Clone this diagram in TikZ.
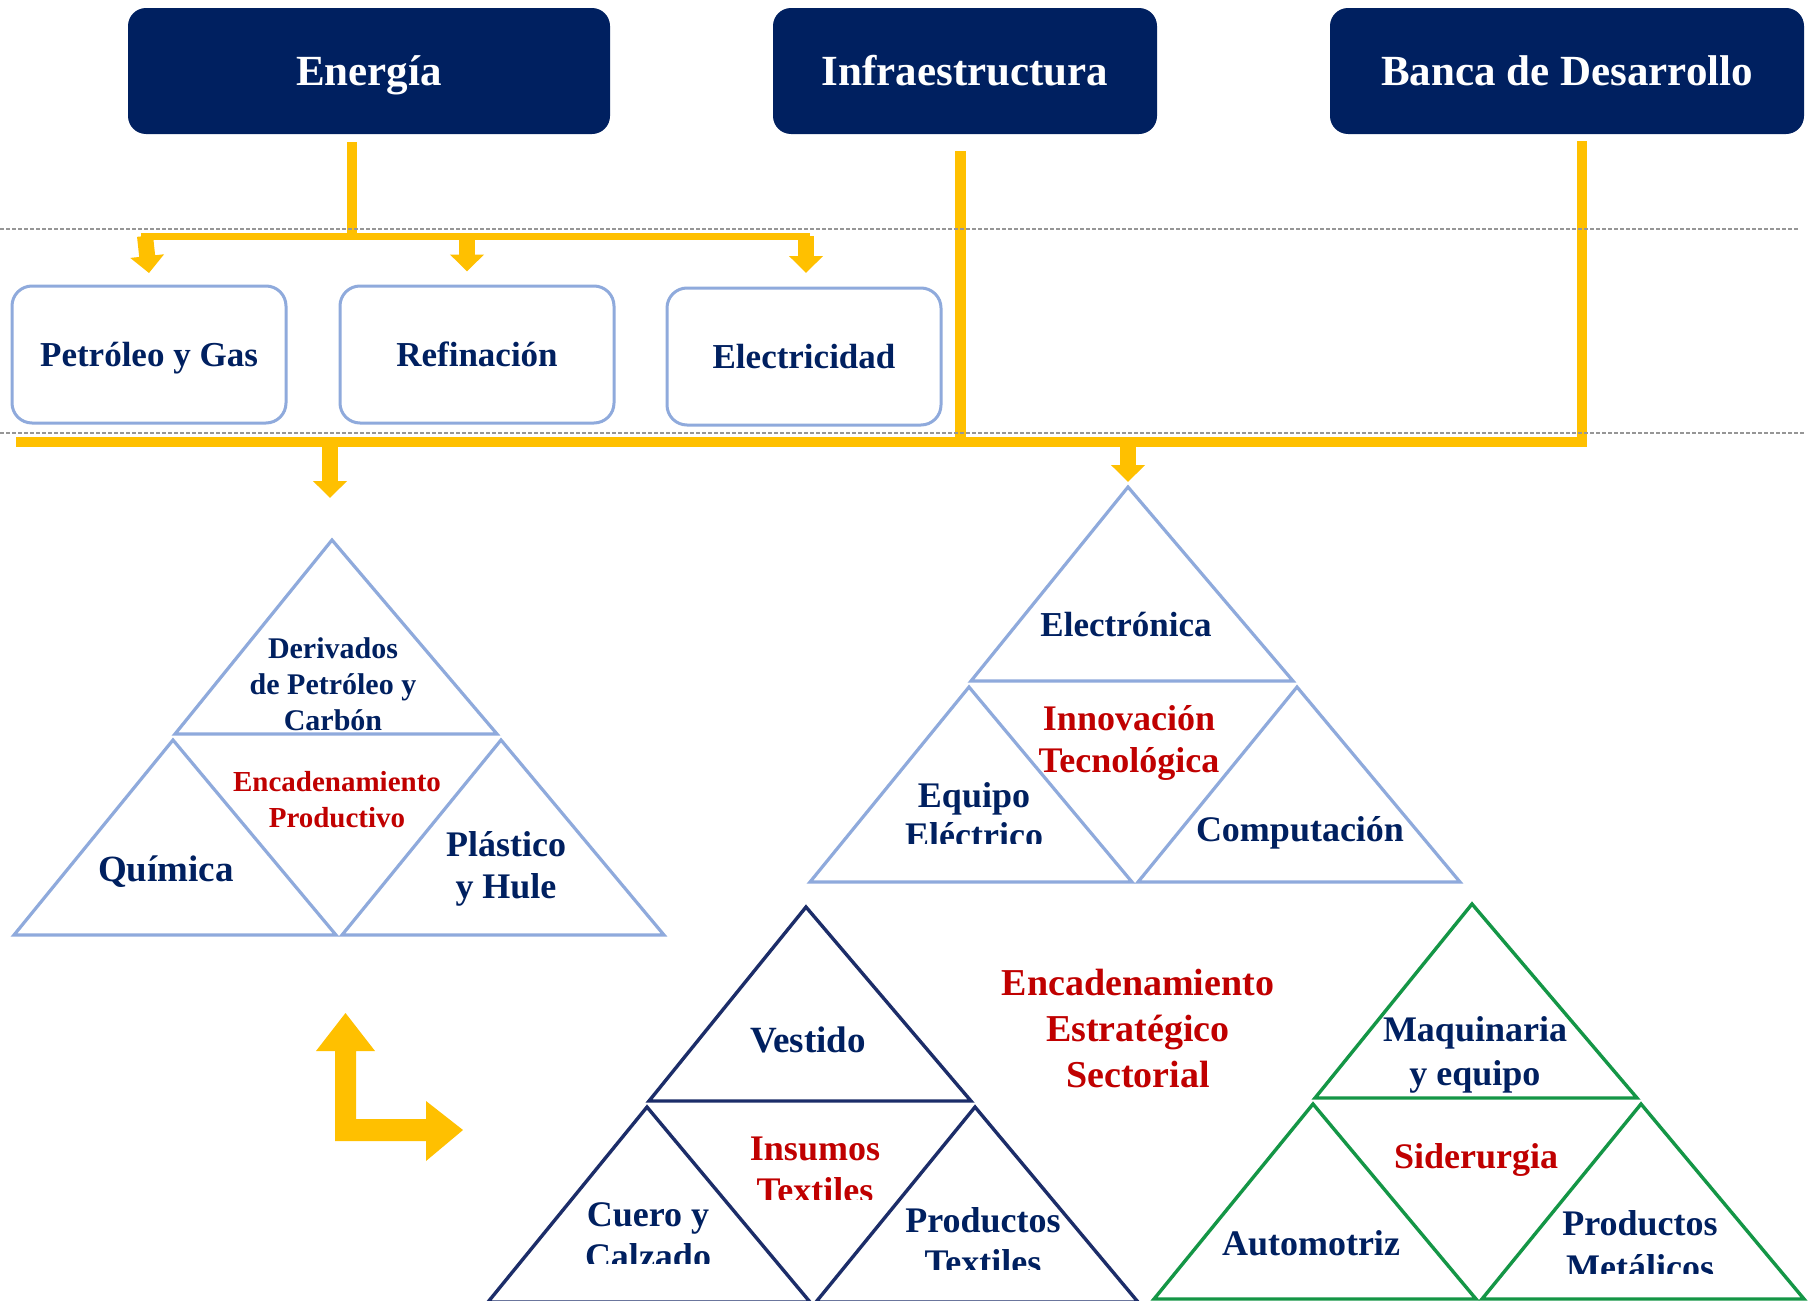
\documentclass[tikz,border=0pt]{standalone}
\usepackage{fontspec}
\setmainfont{Liberation Serif}
\usetikzlibrary{arrows.meta,calc}
\definecolor{navy}{RGB}{0,32,96}
\definecolor{tnavy}{RGB}{28,45,105}
\definecolor{lblue}{RGB}{143,170,220}
\definecolor{ygold}{RGB}{255,192,0}
\definecolor{dred}{RGB}{192,0,0}
\definecolor{tgreen}{RGB}{20,150,70}
\definecolor{dotgray}{RGB}{150,150,150}
\newcommand\pyr[3]{%
  \draw[#3] (#1-4,#2) -- (#1-161,#2+194) -- (#1+161,#2+194) -- cycle;
  \draw[#3] (#1-163,#2+200) -- (#1-322,#2+395) -- (#1,#2+395) -- cycle;
  \draw[#3] (#1+165,#2+200) -- (#1+6,#2+395) -- (#1+328,#2+395) -- cycle;
}
\tikzset{
  titlebox/.style={fill=navy, rounded corners=9pt, text=white,
    font=\fontsize{21.5}{25}\selectfont\bfseries, minimum height=63pt, inner sep=0pt,
    text height=14.5pt, text depth=0pt},
  subbox/.style={draw=lblue, line width=1.5pt, rounded corners=10pt, fill=white, text=navy,
    font=\fontsize{17.5}{21}\selectfont\bfseries, minimum width=137pt, minimum height=68.5pt, inner sep=0pt,
    text height=12pt, text depth=0pt},
  yline/.style={draw=ygold, line cap=butt},
  yarrow/.style={draw=ygold, line width=8pt, -{Triangle[width=16.5pt,length=8.5pt]}},
  dotline/.style={draw=dotgray, line width=1pt, dash pattern=on 2pt off 1pt},
  lbl/.style={text=navy, align=center, inner sep=0pt, font=\fontsize{18}{21}\selectfont\bfseries},
  rlbl/.style={lbl, text=dred},
  triblue/.style={draw=lblue, line width=1.6pt},
  trinavy/.style={draw=tnavy, line width=1.7pt},
  trigreen/.style={draw=tgreen, line width=1.7pt},
}
\begin{document}
\begin{tikzpicture}[x=0.5pt, y=-0.5pt]
\useasboundingbox (0,0) rectangle (1810,1301);
\fill[white] (0,0) rectangle (1810,1301);

% title boxes
\node[titlebox, minimum width=241pt] (en) at (369,71) {Energía};
\node[titlebox, minimum width=192pt] (inf) at (965,71) {Infraestructura};
\node[titlebox, minimum width=237pt] (ban) at (1567,71) {Banca de Desarrollo};

% sub boxes
\node[subbox] (pg) at (149,354.5) {Petróleo y Gas};
\node[subbox] (ref) at (477,354.5) {Refinación};
\node[subbox] (ele) at (804,356.5) {Electricidad};

% bus coordinates
\coordinate (eTop) at ($(en.south)+(-17,8)$);
\coordinate (eBus) at (352,236);
\coordinate (bL) at (145,236);
\coordinate (bR) at (806,236);
\coordinate (bM) at (ref.north |- bL);
\coordinate (iTop) at ($(inf.south)+(-5,17)$);
\coordinate (iBot) at (960,442);
\coordinate (kTop) at (1582,141);
\coordinate (kBot) at (1582,447);
\coordinate (lBus) at (16,442);
\coordinate (rBus) at (1587,442);
\coordinate (aL) at (330,442);
\coordinate (aR) at (1128,442);

% yellow connectors
\draw[yline, line width=5pt] (eTop) -- (eBus);
\draw[yline, line width=3.5pt] ($(bL)+(-4,0)$) -- ($(bR)+(4,0)$);
\draw[yarrow] (bL) -- (pg.north |- 0,273);
\draw[yarrow] ($(bM)+(-10,0)$) -- ($(ref.north)+(-10,-13)$);
\draw[yarrow] (bR) -- (806,273);
\draw[yline, line width=5.5pt] (iTop) -- (iBot);
\draw[yline, line width=5pt] (kTop) -- (kBot);
\draw[yline, line width=5pt] (lBus) -- (rBus);
\draw[yarrow] ($(aL)+(0,-5)$) -- (330,498);
\draw[yarrow] ($(aR)+(0,-5)$) -- (1128,482);

% dotted separators
\draw[dotline] (0,229) -- (1798,229);
\draw[dotline] (0,433) -- (1805,433);

% pyramids
\pyr{336}{540}{triblue}
\pyr{1132}{487}{triblue}
\pyr{810}{907}{trinavy}
\pyr{1476}{904}{trigreen}

% L-shaped arrow
\fill[ygold] (345.5,1013) -- (375,1051) -- (356,1051) -- (356,1119) -- (426,1119)
  -- (426,1101) -- (463,1130) -- (426,1161) -- (426,1141) -- (335,1141)
  -- (335,1051) -- (316,1051) -- cycle;

% left pyramid labels
\node[lbl, font=\fontsize{15}{18}\selectfont\bfseries] (der) at (333,684) {Derivados\\de Petróleo y\\Carbón};
\node[rlbl, font=\fontsize{14.5}{18}\selectfont\bfseries] (encp) at (337,800) {Encadenamiento\\Productivo};
\node[lbl, font=\fontsize{18.5}{21}\selectfont\bfseries] (qui) at (166,872) {Química};
\node[lbl] (pla) at (506,869) {Plástico\\y Hule};

% right pyramid labels
\node[lbl, font=\fontsize{17.5}{21}\selectfont\bfseries] (elec) at (1126,625) {Electrónica};
\node[rlbl] (inn) at (1129,743) {Innovación\\Tecnológica};
\begin{scope}
  \clip (860,700) rectangle (1090,843);
  \node[lbl, font=\fontsize{18}{20}\selectfont\bfseries] (eqe) at (974,815) {Equipo\\Eléctrico};
\end{scope}
\node[lbl] (comp) at (1300,833) {Computación};

% navy pyramid labels
\node[lbl, font=\fontsize{18.5}{21}\selectfont\bfseries] (ves) at (808,1040) {Vestido};
\begin{scope}
  \clip (700,1100) rectangle (930,1199);
  \node[rlbl, font=\fontsize{18}{21}\selectfont\bfseries] (ins) at (815,1170) {Insumos\\Textiles};
\end{scope}
\begin{scope}
  \clip (540,1150) rectangle (760,1263);
  \node[lbl] (cue) at (648,1236) {Cuero y\\Calzado};
\end{scope}
\begin{scope}
  \clip (870,1150) rectangle (1100,1269);
  \node[lbl] (ptx) at (983,1241) {Productos\\Textiles};
\end{scope}

% central label
\node[rlbl, font=\fontsize{19}{23}\selectfont\bfseries] (ees) at (1138,1028) {Encadenamiento\\Estratégico\\Sectorial};

% green pyramid labels
\node[lbl, font=\fontsize{18}{22}\selectfont\bfseries] (maq) at (1475,1055) {Maquinaria\\y equipo};
\node[rlbl] (sid) at (1476,1160) {Siderurgia};
\node[lbl] (aut) at (1311,1243) {Automotriz};
\begin{scope}
  \clip (1530,1150) rectangle (1760,1273);
  \node[lbl, font=\fontsize{18}{22}\selectfont\bfseries] (pme) at (1640,1245) {Productos\\Metálicos};
\end{scope}
\end{tikzpicture}
\end{document}
